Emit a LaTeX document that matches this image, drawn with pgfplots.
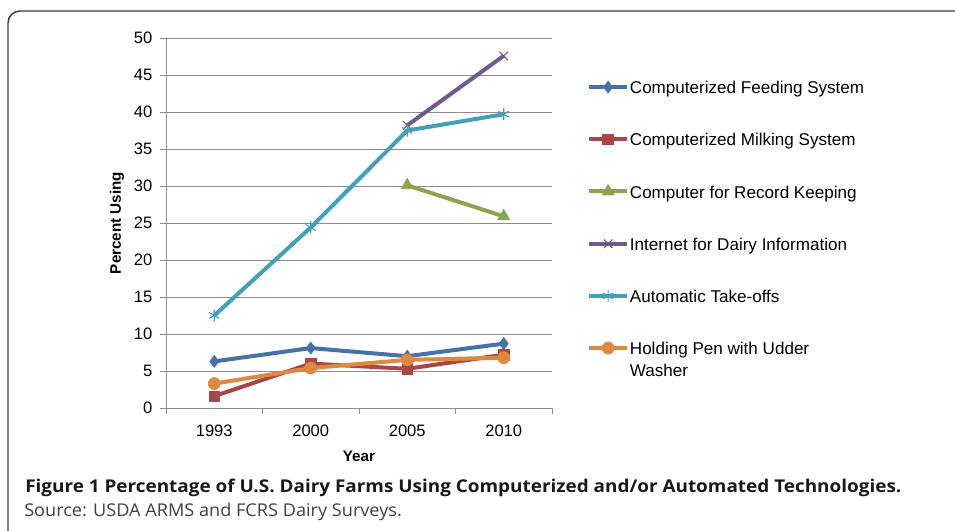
\documentclass[border=0pt]{standalone}
\usepackage{fontspec}
\setmainfont{Liberation Sans}
\newfontfamily\capfontb{Open Sans}[FakeStretch=1.075]
\newfontfamily\capfontr{Open Sans}[FakeStretch=1.03]
\usepackage{pgfplots}
\pgfplotsset{compat=1.18}

\definecolor{cfeed}{HTML}{4572A7}
\definecolor{cmilk}{HTML}{AA4643}
\definecolor{crec}{HTML}{89A54E}
\definecolor{cnet}{HTML}{71588F}
\definecolor{ctake}{HTML}{42A0BA}
\definecolor{cpen}{HTML}{DF8840}
\definecolor{axgray}{HTML}{8C8C8C}
\definecolor{framegray}{HTML}{3A3A3A}

\begin{document}
\begin{tikzpicture}
% page = 955 x 531 px, 1 px = 0.75 bp
\path[use as bounding box] (0,0) rectangle (716.25bp,-398.25bp);
\draw[line width=1.1bp, framegray, rounded corners=9bp]
  (6bp,-420bp) -- (6bp,-8.25bp) -- (740bp,-8.25bp);

\begin{axis}[
  at={(124.5bp,-306bp)}, anchor=south west,
  scale only axis,
  width=289.5bp, height=277.5bp,
  xmin=-0.5, xmax=3.5, ymin=0, ymax=50,
  axis x line*=bottom, axis y line*=left,
  axis line style={axgray, line width=0.75bp},
  xtick={0,1,2,3},
  xticklabels={1993,2000,2005,2010},
  minor xtick={-0.5,0.5,1.5,2.5,3.5},
  major x tick style={draw=none},
  ytick={0,5,...,50},
  ymajorgrids,
  grid style={axgray, line width=0.75bp},
  tick align=outside,
  tick style={axgray, line width=0.75bp},
  major tick length=4.5bp, minor tick length=4.5bp,
  /pgf/number format/assume math mode=true,
  tick label style={font=\fontsize{12.4bp}{14bp}\selectfont},
  xticklabel style={yshift=-4.5bp},
  yticklabel style={xshift=-2.2bp},
  xlabel={Year}, ylabel={Percent Using},
  label style={font=\fontsize{11.4bp}{13bp}\selectfont\bfseries},
  xlabel style={at={(axis description cs:0.5,-0.13)}, anchor=center},
  ylabel style={at={(axis description cs:-0.127,0.5)}, anchor=center, rotate=0},
  legend style={
    at={(axis description cs:1.091,0.893)}, anchor=north west,
    draw=none, fill=none, inner sep=0pt, outer sep=0pt,
    row sep=24.9bp,
    font=\fontsize{12.8bp}{16.5bp}\selectfont,
    nodes={inner sep=0.6bp},
  },
  legend cell align=left,
  legend image code/.code={
    \draw[mark repeat=2, mark phase=2]
      plot coordinates {(0bp,0bp) (14.25bp,0bp) (28.5bp,0bp)};
  },
  every axis plot/.append style={line width=3bp},
  clip=false,
]

\addplot[cfeed, mark=diamond*, mark size=4.5bp, mark options={line width=0.5bp}]
  coordinates {(0,6.3) (1,8.1) (2,7.0) (3,8.7)};
\addlegendentry{Computerized Feeding System\strut}

\addplot[cmilk, mark=square*, mark size=4bp, mark options={line width=0.5bp}]
  coordinates {(0,1.6) (1,6.0) (2,5.3) (3,7.2)};
\addlegendentry{Computerized Milking System\strut}

\addplot[crec, mark=triangle*, mark size=5.2bp, mark options={line width=0.5bp}]
  coordinates {(2,30.1) (3,25.9)};
\addlegendentry{Computer for Record Keeping\strut}

\addplot[cnet, mark=x, mark size=4.5bp, mark options={line width=0.8bp}]
  coordinates {(2,38.2) (3,47.6)};
\addlegendentry{Internet for Dairy Information\strut}

\addplot[ctake, mark=asterisk, mark size=4.5bp, mark options={line width=0.8bp}]
  coordinates {(0,12.5) (1,24.4) (2,37.5) (3,39.7)};
\addlegendentry{Automatic Take-offs\strut}

\addplot[cpen, mark=*, mark size=4.5bp, mark options={line width=0.5bp}]
  coordinates {(0,3.3) (1,5.4) (2,6.5) (3,6.8)};
\addlegendentry{\makebox[0pt][l]{\raisebox{-16.5bp}[0pt][0pt]{Washer}}Holding Pen with Udder\strut}

\end{axis}

\node[anchor=base west, inner sep=0pt, text=black!90,
  font=\capfontb\bfseries\fontsize{13.2bp}{16bp}\selectfont]
  at (18.75bp,-369.5bp)
  {Figure 1 Percentage of U.S. Dairy Farms Using Computerized and/or Automated Technologies.};
\node[anchor=base west, inner sep=0pt, text=black!75,
  font=\capfontr\fontsize{13.2bp}{16bp}\selectfont]
  at (18bp,-387.2bp)
  {Source: USDA ARMS and FCRS Dairy Surveys.};
\end{tikzpicture}
\end{document}
